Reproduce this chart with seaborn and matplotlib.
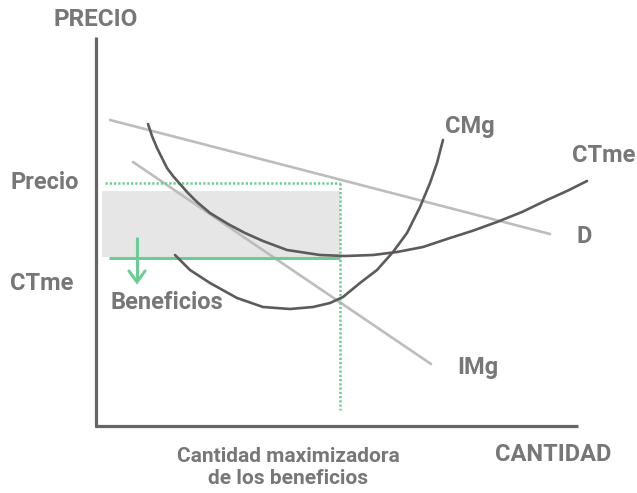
import matplotlib
matplotlib.use("Agg")
import matplotlib.pyplot as plt
import seaborn as sns
import pandas as pd

sns.set_theme(style="white")
plt.rcParams['font.family'] = ['Roboto', 'DejaVu Sans']

# ---- data (quantity, price) ----
demand_q = [14, 454]
demand_p = [306, 192]

img_q = [37, 335]
img_p = [264, 62]

ctme_q = [52, 56, 61, 66, 71, 77, 84, 92, 101, 114, 132, 149, 167, 191, 224, 249,
          277, 301, 327, 354, 376, 401, 426, 451, 471, 491]
ctme_p = [302, 290, 278, 268, 258, 250, 242, 233, 224, 213, 202, 193, 185, 176, 171, 170,
          171, 174, 179, 188, 195, 204, 214, 226, 235, 245]

cmg_q = [79, 94, 114, 141, 167, 194, 217, 234, 247, 264, 281, 297, 311, 324, 334, 341, 347]
cmg_p = [171, 156, 143, 128, 119, 117, 119, 123, 129, 143, 156, 174, 193, 219, 243, 263, 286]

price_level = 243
ctme_level = 168
q_star = 244

labels_y = ["Precio", "CTme"]
curve_labels = ["CMg", "CTme", "D", "IMg"]

# ---- figure ----
fig = plt.figure(figsize=(6.37, 4.93), dpi=100)
ax = fig.add_axes([0, 0, 1, 1])
ax.set_xlim(-96, 541)
ax.set_ylim(-67, 426)
ax.set_axis_off()

TXT = '#777777'
DARK = '#5e5a5a'
LIGHT = '#bdbdbd'
GREEN = '#6dcc94'

# profit rectangle
ax.fill_between([6, q_star], [ctme_level + 1] * 2, [235] * 2, color='#e6e6e6', lw=0, zorder=1)

# axes lines
ax.plot([0, 0], [389, -1], color='#666464', lw=2.3, solid_capstyle='butt', zorder=2)
ax.plot([-1, 482], [0, 0], color='#666464', lw=2.3, solid_capstyle='butt', zorder=2)

# curves
df_d = pd.DataFrame({'q': demand_q, 'p': demand_p})
df_i = pd.DataFrame({'q': img_q, 'p': img_p})
df_c = pd.DataFrame({'q': ctme_q, 'p': ctme_p})
df_m = pd.DataFrame({'q': cmg_q, 'p': cmg_p})
sns.lineplot(data=df_d, x='q', y='p', sort=False, color=LIGHT, lw=1.9, ax=ax, zorder=3)
sns.lineplot(data=df_i, x='q', y='p', sort=False, color=LIGHT, lw=1.9, ax=ax, zorder=3)

# green lines
dots = (0, (0.9, 0.8))
ax.plot([13, q_star], [ctme_level, ctme_level], color=GREEN, lw=2.2, zorder=4, solid_capstyle='butt')
ax.plot([9, q_star], [price_level, price_level], color=GREEN, lw=1.8,
        linestyle=dots, dash_capstyle='butt', zorder=4)
ax.plot([q_star, q_star], [price_level, 16], color=GREEN, lw=1.8,
        linestyle=dots, dash_capstyle='butt', zorder=4)

sns.lineplot(data=df_c, x='q', y='p', sort=False, color=DARK, lw=1.9, ax=ax, zorder=5)
sns.lineplot(data=df_m, x='q', y='p', sort=False, color=DARK, lw=1.9, ax=ax, zorder=5)

# arrow
ax.plot([41, 41], [189, 145], color=GREEN, lw=2.2, zorder=6, solid_capstyle='butt')
ax.plot([33, 41, 49], [155, 144, 155], color=GREEN, lw=2.2, zorder=6,
        solid_joinstyle='miter')

ax.set_xlabel('')
ax.set_ylabel('')

fs = 17
kw = dict(color=TXT, fontweight='bold', fontsize=fs, va='baseline')
ax.text(0, 426 - 26, "PRECIO", ha='center', fontsize=17.5,
        **{k: v for k, v in kw.items() if k != 'fontsize'})
ax.text(-51, 426 - 189, labels_y[0], ha='center', **kw)
ax.text(-54, 426 - 290, labels_y[1], ha='center', **kw)
ax.text(14, 426 - 309, "Beneficios", ha='left', **kw)
ax.text(349, 426 - 133, curve_labels[0], ha='left', **kw)
ax.text(476, 426 - 162, curve_labels[1], ha='left', **kw)
ax.text(481, 426 - 243, curve_labels[2], ha='left', **kw)
ax.text(361, 426 - 374, curve_labels[3], ha='left', **kw)

kw2 = dict(color=TXT, fontweight='bold', va='baseline')
ax.text(457, 426 - 461, "CANTIDAD", ha='center', fontsize=17, **kw2)
ax.text(192, 426 - 462, "Cantidad maximizadora", ha='center', fontsize=15, **kw2)
ax.text(192, 426 - 484, "de los beneficios", ha='center', fontsize=15, **kw2)

fig.savefig('out.png', dpi=100)
